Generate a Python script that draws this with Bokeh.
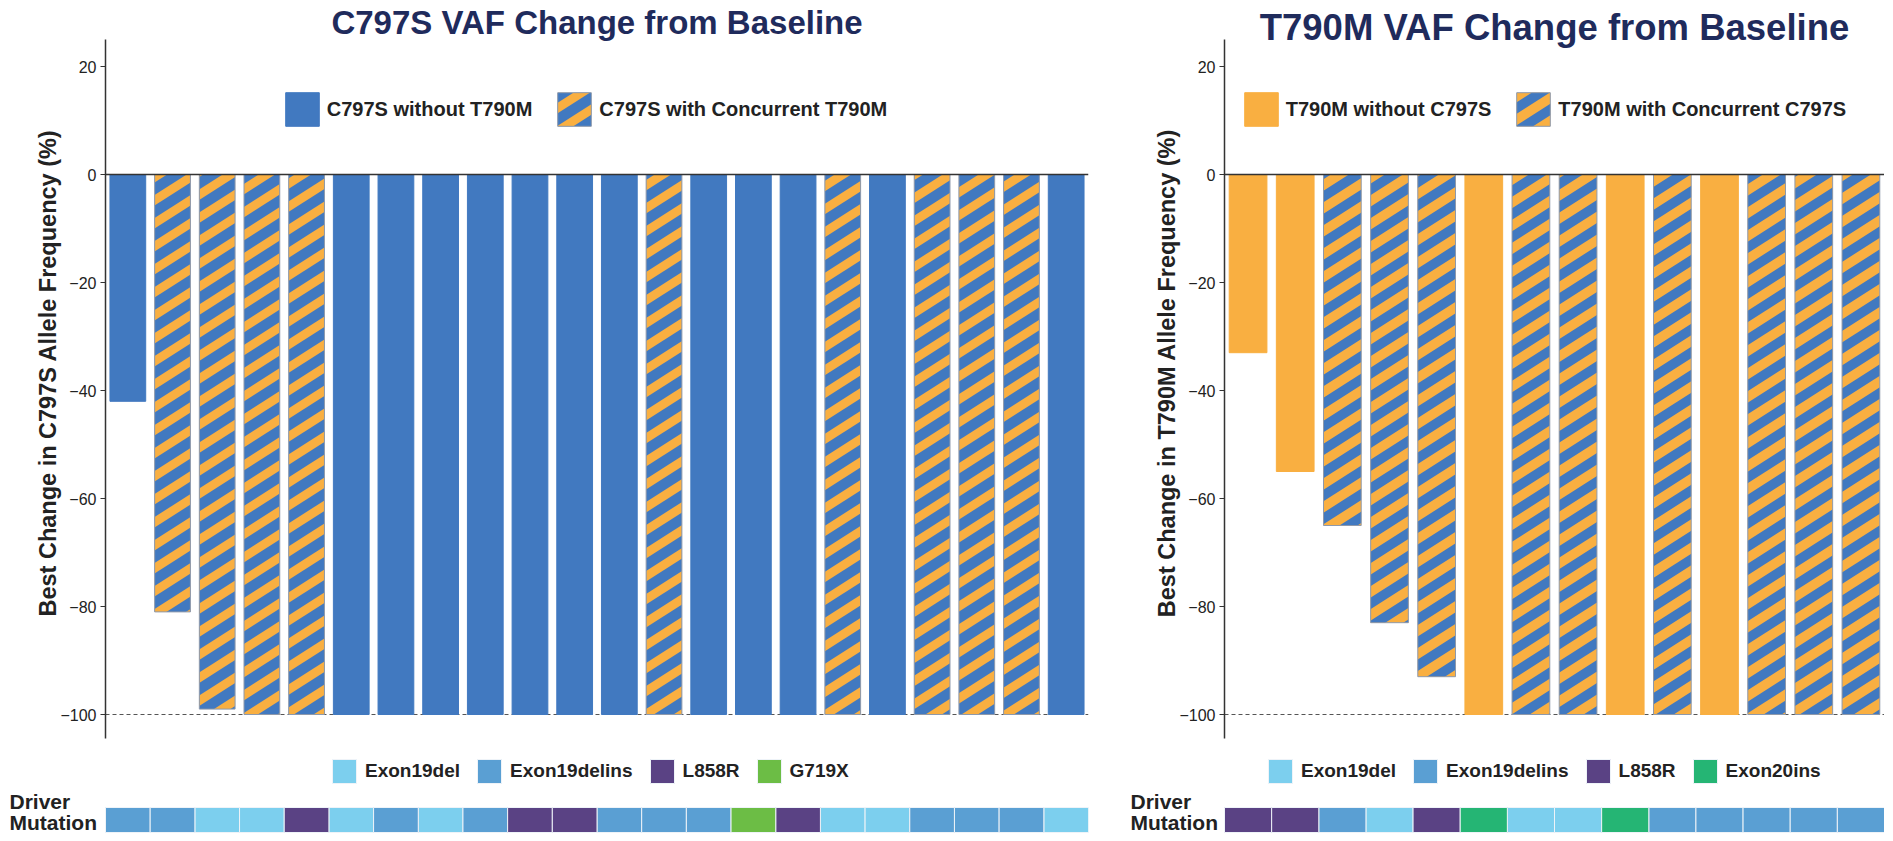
from bokeh.plotting import figure
from bokeh.models import (Range1d, LinearAxis, FixedTicker, Span, Label, Legend,
                          LegendItem, ColumnDataSource, CanvasTexture)
from bokeh.layouts import row, column
from bokeh.core.properties import value
from bokeh.embed import file_html
from bokeh.resources import INLINE

# ---------------- data ----------------
c797s_values = [-42, -81, -99, -100, -100, -100, -100, -100, -100, -100, -100,
                -100, -100, -100, -100, -100, -100, -100, -100, -100, -100, -100]
c797s_concurrent = [False, True, True, True, True, False, False, False, False, False, False,
                    False, True, False, False, False, True, False, True, True, True, False]
c797s_driver = ["Exon19delins", "Exon19delins", "Exon19del", "Exon19del", "L858R",
                "Exon19del", "Exon19delins", "Exon19del", "Exon19delins", "L858R",
                "L858R", "Exon19delins", "Exon19delins", "Exon19delins", "G719X",
                "L858R", "Exon19del", "Exon19del", "Exon19delins", "Exon19delins",
                "Exon19delins", "Exon19del"]
c797s_driver_types = ["Exon19del", "Exon19delins", "L858R", "G719X"]

t790m_values = [-33, -55, -65, -83, -93, -100, -100, -100, -100, -100, -100, -100, -100, -100]
t790m_concurrent = [False, False, True, True, True, False, True, True, False, True, False,
                    True, True, True]
t790m_driver = ["L858R", "L858R", "Exon19delins", "Exon19del", "L858R", "Exon20ins",
                "Exon19del", "Exon19del", "Exon20ins", "Exon19delins", "Exon19delins",
                "Exon19delins", "Exon19delins", "Exon19delins"]
t790m_driver_types = ["Exon19del", "Exon19delins", "L858R", "Exon20ins"]

y_ticks = [-100, -80, -60, -40, -20, 0, 20]

# ---------------- style ----------------
BLUE = "#4179C0"
ORANGE = "#F9AF41"
NAVY = "#1F2B5C"
TEXT = "#222222"
DRIVER_COLORS = {"Exon19del": "#7CCFEE", "Exon19delins": "#5A9FD3", "L858R": "#5A4284",
                 "G719X": "#6CBD45", "Exon20ins": "#25B574"}
FONT = "Liberation Sans"

MAIN_H = 745
STRIP_H_PX = 91
PX_PER_UNIT = 5.4
ZERO_PX = 174
Y_END = ZERO_PX / PX_PER_UNIT
Y_START = -(MAIN_H - ZERO_PX) / PX_PER_UNIT


def stripe_texture(css_color, band):
    js = """
var W = 36, H = 23, t = %s;
ctx.canvas.width = W;
ctx.canvas.height = H;
ctx.fillStyle = "%s";
for (var k = -1; k <= 1; k++) {
  ctx.beginPath();
  ctx.moveTo(0, H + k*H - t/2);
  ctx.lineTo(W, k*H - t/2);
  ctx.lineTo(W, k*H + t/2);
  ctx.lineTo(0, H + k*H + t/2);
  ctx.closePath();
  ctx.fill();
}
""" % (band, css_color)
    return CanvasTexture(code=js)


def make_panel(values, concurrent, drivers, driver_types, title, title_size, title_base,
               ylabel, leg_labels, base_color, stripe_color, band, width, border_left,
               border_right, leg_x, drv_leg_x, drv_label_x):
    n = len(values)
    xs = list(range(1, n + 1))
    p = figure(width=width, height=MAIN_H, x_range=Range1d(0.5, n + 0.5),
               y_range=Range1d(Y_START, Y_END), output_backend="svg",
               toolbar_location=None, x_axis_location=None, y_axis_location=None,
               min_border_left=border_left, min_border_right=border_right, min_border_top=0,
               min_border_bottom=0, outline_line_color=None, background_fill_color="white")
    p.grid.visible = False

    ax = LinearAxis(bounds=(-104.4, 25.0), ticker=FixedTicker(ticks=y_ticks, minor_ticks=[]),
                    axis_label=ylabel, axis_label_text_font=FONT,
                    axis_label_text_font_style="bold", axis_label_text_font_size="23.5px",
                    axis_label_text_color=TEXT, axis_label_standoff=-4,
                    major_label_text_font=FONT, major_label_text_font_size="16px",
                    major_label_text_color=TEXT, major_label_standoff=4,
                    major_tick_out=5, major_tick_in=0, minor_tick_out=0, minor_tick_in=0,
                    axis_line_color="#333333", axis_line_width=1.5,
                    major_tick_line_color="#333333", major_tick_line_width=1.2)
    p.add_layout(ax, "left")

    p.add_layout(Span(location=-100, dimension="width", line_color="#555555",
                      line_width=1, line_dash="4 3", level="underlay"))

    solid = ColumnDataSource(dict(x=[x for x, c in zip(xs, concurrent) if not c],
                                  v=[v for v, c in zip(values, concurrent) if not c]))
    hatch = ColumnDataSource(dict(x=[x for x, c in zip(xs, concurrent) if c],
                                  v=[v for v, c in zip(values, concurrent) if c]))
    r_solid = p.vbar(x="x", top=0, bottom="v", width=0.8, source=solid,
                     fill_color=base_color, line_color=base_color, line_width=1)
    r_hatch = p.vbar(x="x", top=0, bottom="v", width=0.8, source=hatch,
                     fill_color=base_color, hatch_pattern=value("stripes"),
                     hatch_extra={"stripes": stripe_texture(stripe_color, band)},
                     hatch_color=stripe_color, line_color="#8E99AB", line_width=1)

    p.add_layout(Span(location=0, dimension="width", line_color="#333333", line_width=1.5))

    leg = Legend(items=[LegendItem(label=leg_labels[0], renderers=[r_solid]),
                        LegendItem(label=leg_labels[1], renderers=[r_hatch])],
                 orientation="horizontal", location=(leg_x, 614.75),
                 glyph_width=42, glyph_height=42, label_standoff=4, spacing=21,
                 padding=0, margin=0, border_line_alpha=0, background_fill_alpha=0,
                 label_text_font=FONT, label_text_font_style="bold",
                 label_text_font_size="20px", label_text_color=TEXT)
    p.add_layout(leg)

    p.add_layout(Label(x=(n + 1) / 2, y=MAIN_H - title_base, y_units="screen", text=title,
                       text_font=FONT, text_font_style="bold", text_font_size=title_size,
                       text_color=NAVY, text_align="center", text_baseline="alphabetic"))

    # ---- driver mutation strip (own figure, frame spans label area too) ----
    frame_w = width - border_left - border_right
    slot = frame_w / n
    s = figure(width=width, height=STRIP_H_PX,
               x_range=Range1d(0.5 - border_left / slot, n + 0.5),
               y_range=Range1d(0, STRIP_H_PX), output_backend="svg",
               toolbar_location=None, x_axis_location=None, y_axis_location=None,
               min_border_left=0, min_border_right=border_right, min_border_top=0,
               min_border_bottom=0, outline_line_color=None, background_fill_color="white")
    s.grid.visible = False

    drv_items = []
    for t in driver_types:
        src = ColumnDataSource(dict(x=[x for x, d in zip(xs, drivers) if d == t]))
        r = s.rect(x="x", y=16.5, width=1, height=25, source=src,
                   fill_color=DRIVER_COLORS[t], line_color="#EEF3F8", line_width=1)
        drv_items.append(LegendItem(label=t, renderers=[r]))

    leg2 = Legend(items=drv_items, orientation="horizontal", location=(drv_leg_x, 50),
                  glyph_width=30, glyph_height=30, label_standoff=6, spacing=14,
                  padding=0, margin=0, border_line_alpha=0, background_fill_alpha=0,
                  label_text_font=FONT, label_text_font_style="bold",
                  label_text_font_size="19px", label_text_color=TEXT)
    s.add_layout(leg2)

    for txt, yb in (("Driver", 35), ("Mutation", 14)):
        s.add_layout(Label(x=drv_label_x, x_units="screen", y=yb, y_units="screen",
                           text=txt, text_font=FONT, text_font_style="bold",
                           text_font_size="21px", text_color=TEXT,
                           text_baseline="alphabetic", text_align="left"))
    return p, s


p1, s1 = make_panel(c797s_values, c797s_concurrent, c797s_driver, c797s_driver_types,
                    "C797S VAF Change from Baseline", "33px", 22,
                    "Best Change in C797S Allele Frequency (%)",
                    ["C797S without T790M", "C797S with Concurrent T790M"],
                    BLUE, ORANGE, 10.5, 1127, 105, 39, 175.75, 329, 9)
p2, s2 = make_panel(t790m_values, t790m_concurrent, t790m_driver, t790m_driver_types,
                    "T790M VAF Change from Baseline", "36.5px", 27,
                    "Best Change in T790M Allele Frequency (%)",
                    ["T790M without C797S", "T790M with Concurrent C797S"],
                    ORANGE, BLUE, 11.5, 757, 97, 0, 15.75, 138, 3)

layout = column(row(p1, p2), row(s1, s2))
open("out.html", "w").write(file_html(layout, INLINE))
